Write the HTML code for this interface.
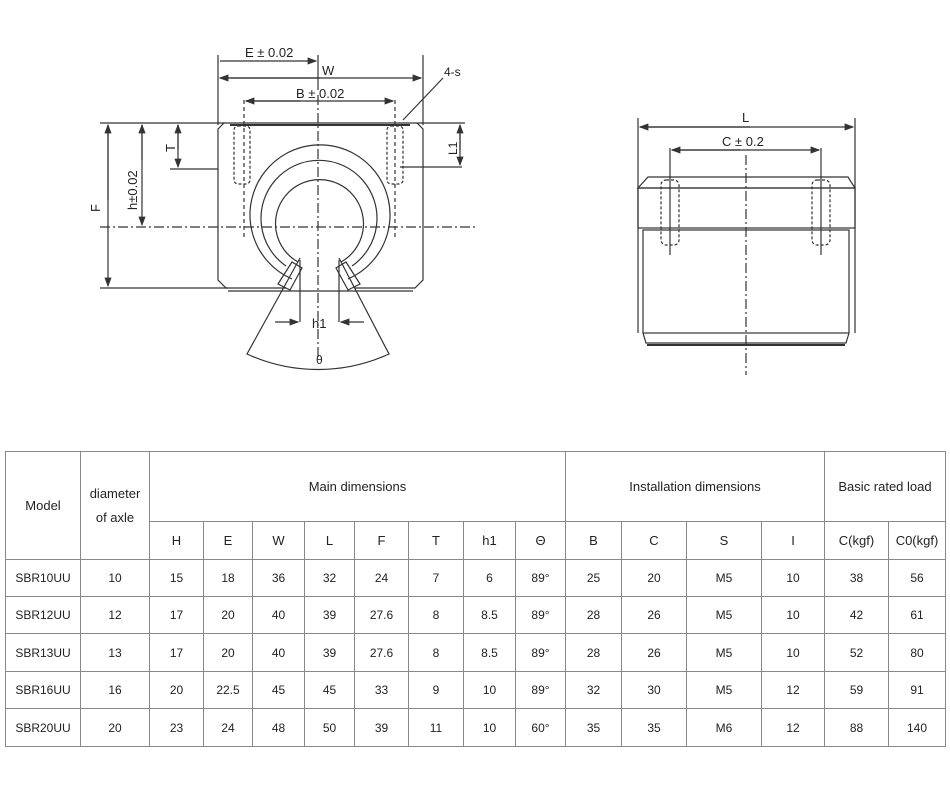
<!DOCTYPE html>
<html><head><meta charset="utf-8"><style>
html,body{margin:0;padding:0;background:#fff;}
body{width:950px;height:787px;position:relative;overflow:hidden;font-family:"Liberation Sans",Arial,sans-serif;}
svg{position:absolute;left:0;top:0;}
table{position:absolute;left:5px;top:451px;border-collapse:collapse;font-size:12px;color:#222;table-layout:fixed;}
td{border:1px solid #888;text-align:center;padding:0;}
</style></head><body>
<svg width="950" height="440" viewBox="0 0 950 440" font-family="Liberation Sans,Arial,sans-serif" fill="none" stroke="#333" stroke-width="1.2">
<defs><marker id="a" markerWidth="8" markerHeight="6" refX="7" refY="3" orient="auto"><path d="M0,0 L8,3 L0,6 z" fill="#333" stroke="none"/></marker></defs>
<!-- left view -->
<line x1="218" y1="55" x2="218" y2="125"/>
<line x1="423" y1="55" x2="423" y2="125"/>
<line x1="220" y1="61" x2="316" y2="61" marker-end="url(#a)"/>
<line x1="220" y1="78" x2="421" y2="78" marker-end="url(#a)"/>
<line x1="320" y1="78" x2="220" y2="78" marker-end="url(#a)"/>
<line x1="318" y1="55" x2="318" y2="90"/>
<text x="245" y="57" fill="#222" stroke="none" font-size="13">E ± 0.02</text>
<text x="322" y="75" fill="#222" stroke="none" font-size="13">W</text>
<line x1="244" y1="100" x2="244" y2="240" stroke-dasharray="4,3"/>
<line x1="395" y1="100" x2="395" y2="240" stroke-dasharray="4,3"/>
<line x1="246" y1="101" x2="393" y2="101" marker-end="url(#a)"/>
<line x1="300" y1="101" x2="246" y2="101" marker-end="url(#a)"/>
<text x="296" y="98" fill="#222" stroke="none" font-size="13">B ± 0.02</text>
<text x="444" y="76" fill="#222" stroke="none" font-size="12">4-s</text>
<line x1="443" y1="78" x2="403" y2="120"/>
<line x1="100" y1="123" x2="465" y2="123"/>
<line x1="100" y1="288" x2="228" y2="288"/>
<line x1="108" y1="125" x2="108" y2="286" marker-end="url(#a)"/>
<line x1="108" y1="200" x2="108" y2="125" marker-end="url(#a)"/>
<line x1="142" y1="125" x2="142" y2="225" marker-end="url(#a)"/>
<line x1="142" y1="160" x2="142" y2="125" marker-end="url(#a)"/>
<line x1="178" y1="125" x2="178" y2="167" marker-end="url(#a)"/>
<line x1="178" y1="150" x2="178" y2="125" marker-end="url(#a)"/>
<line x1="170" y1="169" x2="218" y2="169"/>
<line x1="400" y1="167" x2="462" y2="167"/>
<line x1="460" y1="125" x2="460" y2="165" marker-end="url(#a)"/>
<line x1="460" y1="150" x2="460" y2="125" marker-end="url(#a)"/>
<text x="0" y="0" fill="#222" stroke="none" font-size="13" transform="translate(100,212) rotate(-90)">F</text>
<text x="0" y="0" fill="#222" stroke="none" font-size="13" transform="translate(137,210) rotate(-90)">h±0.02</text>
<text x="0" y="0" fill="#222" stroke="none" font-size="13" transform="translate(175,152) rotate(-90)">T</text>
<text x="0" y="0" fill="#222" stroke="none" font-size="12" transform="translate(457,155) rotate(-90)">L1</text>
<path d="M224,123 L218,129 L218,280 L226,288 L286,288 M354,288 L415,288 L423,280 L423,129 L417,123"/>
<line x1="228" y1="291" x2="413" y2="291"/>
<line x1="230" y1="125" x2="410" y2="125" stroke-width="2"/>
<line x1="100" y1="227" x2="475" y2="227" stroke-dasharray="10,3,2,3"/>
<line x1="318" y1="95" x2="318" y2="360" stroke-dasharray="10,3,2,3"/>
<circle cx="319" cy="229" r="70" stroke-dasharray="none" stroke="#fff" stroke-width="0"/>
<path d="M292,279 A70,70 0 1 1 348,279"/>
<path d="M286,266 A58,58 0 1 1 352,266"/>
<path d="M298,262 A44,44 0 1 1 341,262"/>
<path d="M278,284 L292,262 L302,268 L290,290 z"/>
<path d="M360,284 L346,262 L336,268 L348,290 z"/>
<rect x="234" y="126" width="16" height="58" rx="4" stroke-dasharray="3,2"/>
<rect x="387" y="126" width="16" height="58" rx="4" stroke-dasharray="3,2"/>
<path d="M300,258 L247,354 A170,170 0 0 0 389,354 L339,258"/>
<line x1="300" y1="260" x2="300" y2="322"/>
<line x1="339" y1="260" x2="339" y2="322"/>
<line x1="275" y1="322" x2="298" y2="322" marker-end="url(#a)"/>
<line x1="364" y1="322" x2="341" y2="322" marker-end="url(#a)"/>
<text x="312" y="328" fill="#222" stroke="none" font-size="13">h1</text>
<text x="316" y="364" fill="#222" stroke="none" font-size="12">θ</text>
<!-- right view -->
<line x1="638" y1="118" x2="638" y2="333"/>
<line x1="855" y1="118" x2="855" y2="333"/>
<line x1="640" y1="127" x2="853" y2="127" marker-end="url(#a)"/>
<line x1="750" y1="127" x2="640" y2="127" marker-end="url(#a)"/>
<text x="742" y="122" fill="#222" stroke="none" font-size="13">L</text>
<line x1="670" y1="148" x2="670" y2="255"/>
<line x1="821" y1="148" x2="821" y2="255"/>
<line x1="672" y1="150" x2="819" y2="150" marker-end="url(#a)"/>
<line x1="740" y1="150" x2="672" y2="150" marker-end="url(#a)"/>
<text x="722" y="146" fill="#222" stroke="none" font-size="13">C ± 0.2</text>
<path d="M648,177 L848,177 L855,188 L638,188 z"/>
<rect x="638" y="188" width="217" height="40"/>
<rect x="643" y="230" width="206" height="103"/>
<path d="M643,333 L646,343 L846,343 L849,333"/>
<line x1="647" y1="345" x2="845" y2="345" stroke-width="2"/>
<rect x="661" y="180" width="18" height="65" rx="5" stroke-dasharray="3,2"/>
<rect x="812" y="180" width="18" height="65" rx="5" stroke-dasharray="3,2"/>
<line x1="746" y1="155" x2="746" y2="375" stroke-dasharray="10,3,2,3"/>
</svg>
<table>
<colgroup><col style="width:75px"><col style="width:69px"><col style="width:54px"><col style="width:49px"><col style="width:52px"><col style="width:50px"><col style="width:54px"><col style="width:55px"><col style="width:52px"><col style="width:50px"><col style="width:56px"><col style="width:65px"><col style="width:75px"><col style="width:63px"><col style="width:64px"><col style="width:57px"></colgroup>
<tr style="height:70px"><td rowspan="2" style="font-size:13px">Model</td><td rowspan="2" style="font-size:13px;line-height:24px">diameter<br>of axle</td><td colspan="8" style="font-size:13px;vertical-align:top;padding-top:27px">Main dimensions</td><td colspan="4" style="font-size:13px;vertical-align:top;padding-top:27px">Installation dimensions</td><td colspan="2" style="font-size:13px;vertical-align:top;padding-top:27px">Basic rated load</td></tr>
<tr style="height:38px;font-size:13px"><td>H</td><td>E</td><td>W</td><td>L</td><td>F</td><td>T</td><td>h1</td><td>Θ</td><td>B</td><td>C</td><td>S</td><td>I</td><td>C(kgf)</td><td>C0(kgf)</td></tr>
<tr style="height:37px"><td>SBR10UU</td><td>10</td><td>15</td><td>18</td><td>36</td><td>32</td><td>24</td><td>7</td><td>6</td><td>89°</td><td>25</td><td>20</td><td>M5</td><td>10</td><td>38</td><td>56</td></tr>
<tr style="height:37px"><td>SBR12UU</td><td>12</td><td>17</td><td>20</td><td>40</td><td>39</td><td>27.6</td><td>8</td><td>8.5</td><td>89°</td><td>28</td><td>26</td><td>M5</td><td>10</td><td>42</td><td>61</td></tr>
<tr style="height:38px"><td>SBR13UU</td><td>13</td><td>17</td><td>20</td><td>40</td><td>39</td><td>27.6</td><td>8</td><td>8.5</td><td>89°</td><td>28</td><td>26</td><td>M5</td><td>10</td><td>52</td><td>80</td></tr>
<tr style="height:37px"><td>SBR16UU</td><td>16</td><td>20</td><td>22.5</td><td>45</td><td>45</td><td>33</td><td>9</td><td>10</td><td>89°</td><td>32</td><td>30</td><td>M5</td><td>12</td><td>59</td><td>91</td></tr>
<tr style="height:38px"><td>SBR20UU</td><td>20</td><td>23</td><td>24</td><td>48</td><td>50</td><td>39</td><td>11</td><td>10</td><td>60°</td><td>35</td><td>35</td><td>M6</td><td>12</td><td>88</td><td>140</td></tr>
</table>
</body></html>
